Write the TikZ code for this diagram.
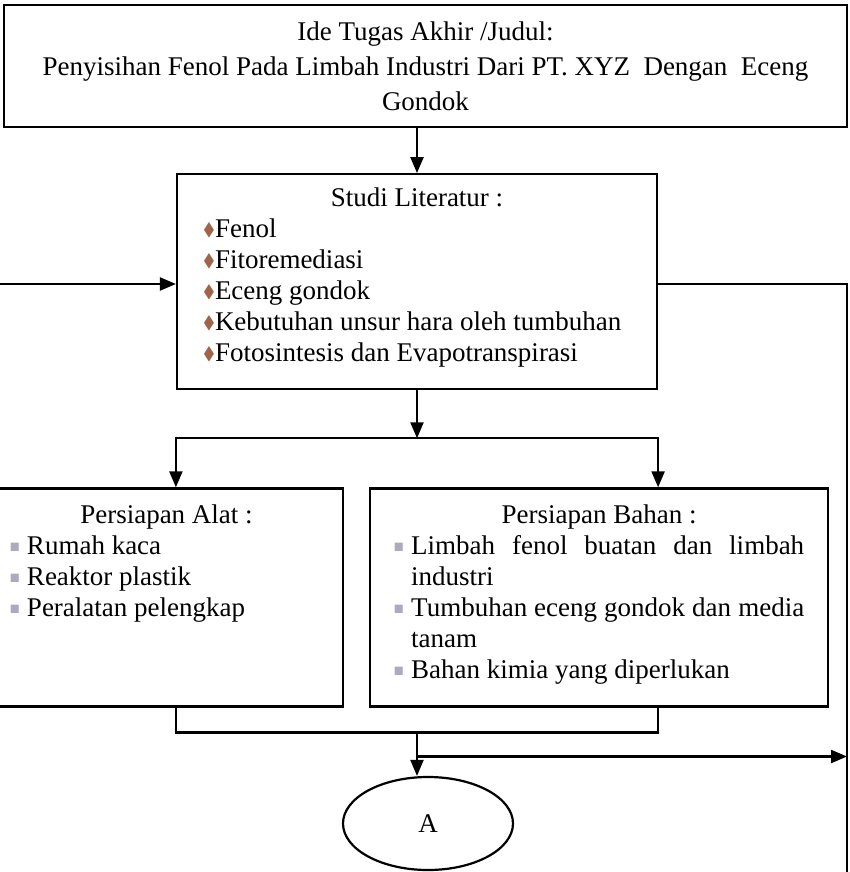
\documentclass[tikz,border=0pt]{standalone}
\usepackage{fontspec}
\setmainfont{Liberation Serif}
\usepackage{amsmath,amssymb}
\usepackage{xcolor}
\usepackage{graphicx}
\usetikzlibrary{arrows.meta, positioning, shapes.geometric}

\definecolor{litbrown}{HTML}{A0644A}
\definecolor{prepgrey}{HTML}{ABABC0}
\newcommand{\litdot}{\makebox[12pt][l]{\textcolor{litbrown}{\raisebox{0.08em}{\scalebox{0.66}{$\blacklozenge$}}}}}
\newcommand{\prepdot}{\makebox[17pt][l]{\textcolor{prepgrey}{\raisebox{0.1em}{\scalebox{0.45}{$\blacksquare$}}}}}
\newcommand{\prepitem}[1]{\par\hangindent=17pt\hangafter=1\noindent\prepdot #1}

\begin{document}
\begin{tikzpicture}[
  x=1pt, y=-1pt,
  font=\fontsize{27}{31}\selectfont,
  ideabox/.style={rectangle, draw, line width=2.2pt, minimum width=843pt, minimum height=122pt, align=center, inner sep=0pt},
  litbox/.style={rectangle, draw, line width=2.2pt, minimum width=480pt, minimum height=215pt, inner sep=0pt},
  prepbox/.style={rectangle, draw, line width=2.2pt, minimum height=218pt, inner sep=0pt},
  connector/.style={ellipse, draw, line width=2.2pt, minimum width=170pt, minimum height=93pt},
  line/.style={line width=2.2pt},
  arrow/.style={line, -{Triangle[length=16pt,width=13pt]}}
]
\useasboundingbox (0,0) rectangle (849,872);

\node[ideabox, font=\fontsize{27}{35}\selectfont] (idea) at (425.5,66) {Ide Tugas Akhir /Judul:\\ Penyisihan Fenol Pada Limbah Industri Dari PT.\ XYZ\ \ Dengan\ \ Eceng\\ Gondok};
\node[litbox, below=45pt of idea, xshift=-8.5pt] (lit) {\begin{minipage}{428pt}
\vspace*{-8pt}
\centering Studi Literatur :\par
\raggedright
\litdot Fenol\par
\litdot Fitoremediasi\par
\litdot Eceng gondok\par
\litdot Kebutuhan unsur hara oleh tumbuhan\par
\litdot Fotosintesis dan Evapotranspirasi
\end{minipage}};
\node[prepbox, minimum width=353pt, below=97pt of lit, xshift=-250.5pt] (alat) {\begin{minipage}[c][186pt][t]{313pt}
{\centering Persiapan Alat :\par}
\prepitem{Rumah kaca}
\prepitem{Reaktor plastik}
\prepitem{Peralatan pelengkap}
\end{minipage}};
\node[prepbox, minimum width=458pt, right=25pt of alat] (bahan) {\begin{minipage}[c][186pt][t]{410pt}
{\centering Persiapan Bahan :\par}
\prepitem{Limbah fenol buatan dan limbah\linebreak industri}
\prepitem{Tumbuhan eceng gondok dan media\linebreak tanam}
\prepitem{Bahan kimia yang diperlukan}
\end{minipage}};
\node[connector] (pageA) at (428,823.5) {A};

\coordinate (split) at ([yshift=-48pt]lit.south);
\path (lit.south |- alat.south) ++(0,25) coordinate (join);
\path (join) ++(0,24) coordinate (tap);
\coordinate (backin) at (0,284);
\coordinate (backout) at (847,284);
\coordinate (runoff) at (847,872);

\draw[arrow] (lit.north |- idea.south) -- (lit.north);
\draw[arrow] (backin) -- (backin -| lit.west);
\draw[line] (backout -| lit.east) -- (backout) -- (runoff);
\draw[arrow] (lit.south) -- (split);
\draw[arrow] (split) -| (lit.west |- alat.north);
\draw[arrow] (split) -| (lit.east |- bahan.north);
\draw[line] (lit.west |- alat.south) |- (join) -| (lit.east |- bahan.south);
\draw[arrow] (join) -- (join |- pageA.north);
\draw[arrow] (tap) -- (tap -| backout);

\end{tikzpicture}
\end{document}
